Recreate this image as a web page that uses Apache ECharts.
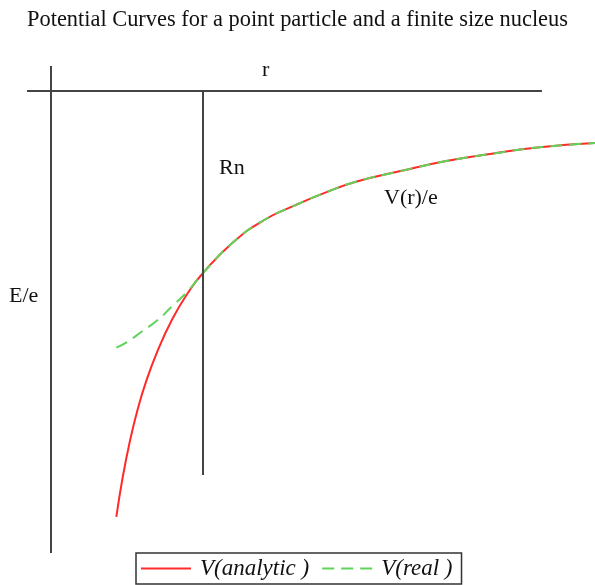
<!DOCTYPE html>
<html><head><meta charset="utf-8">
<script src="https://cdn.jsdelivr.net/npm/echarts@6/dist/echarts.min.js"></script>
<style>html,body{margin:0;padding:0;background:#fff}#c{width:595px;height:585px}</style>
</head><body><div id="c"></div>
<script>
// radius in units of Rn, potential in units of V(Rn)
var rAnalytic = [0.43, 0.47, 0.52, 0.57, 0.62, 0.7, 0.8, 0.9, 1.0, 1.2, 1.4, 1.6, 1.8, 2.0, 2.3, 2.6, 2.9, 3.2, 3.58];
var vAnalytic = [-2.34, -2.13, -1.92, -1.75, -1.61, -1.43, -1.25, -1.11, -1.0, -0.83, -0.71, -0.63, -0.56, -0.50, -0.44, -0.385, -0.345, -0.31, -0.286];
var rReal = [0.43, 0.5, 0.6, 0.7, 0.8, 0.9, 1.0, 1.2, 1.4, 1.6, 1.8, 2.0, 2.3, 2.6, 2.9, 3.2, 3.58];
var vReal = [-1.41, -1.38, -1.32, -1.26, -1.18, -1.10, -1.0, -0.83, -0.71, -0.63, -0.56, -0.50, -0.44, -0.385, -0.345, -0.31, -0.286];
var rNucleus = 1.0;
var seriesNames = ['V(analytic)', 'V(real)'];

function pairs(xs, ys){ return xs.map(function(x,i){ return [x, ys[i]]; }); }

var chart = echarts.init(document.getElementById('c'), null, {renderer:'canvas'});
var axisColor = '#444';
var labelFont = '22px "Liberation Serif"';
chart.setOption({
  animation: false,
  backgroundColor: '#fff',
  title: {
    text: 'Potential Curves for a point particle and a finite size nucleus',
    left: 'center', top: 4,
    textStyle: {fontFamily: 'Liberation Serif', fontSize: 22.4, fontWeight: 'normal', color: '#111'}
  },
  grid: {left: 0, right: 0, top: 0, bottom: 0},
  xAxis: {type: 'value', min: -0.3355, max: 3.579, show: false},
  yAxis: {type: 'value', min: -2.714, max: 0.5, show: false},
  legend: {
    data: seriesNames,
    left: 136, top: 553,
    padding: [4, 9, 4, 4],
    borderColor: '#333', borderWidth: 1.5,
    itemWidth: 50, itemHeight: 14, itemGap: 12,
    itemStyle: {opacity: 0},
    formatter: function(n){ return n.replace(')', ' )'); },
    textStyle: {fontFamily: 'Liberation Serif', fontStyle: 'italic', fontSize: 23, color: '#111', padding: [0, 0, 0, 4]}
  },
  series: [
    {
      name: seriesNames[0], type: 'line', smooth: true, symbol: 'none',
      data: pairs(rAnalytic, vAnalytic),
      lineStyle: {color: '#ff2a2a', width: 2},
      itemStyle: {color: '#ff2a2a'},
      z: 3,
      markLine: {
        silent: true, symbol: ['none','none'],
        label: {show: false},
        lineStyle: {color: axisColor, width: 2, type: 'solid'},
        data: [
          [{coord: [-0.158, 0]}, {coord: [3.23, 0]}],
          [{coord: [0, 0.137]}, {coord: [0, -2.538]}],
          [{coord: [rNucleus, 0]}, {coord: [rNucleus, -2.11]}]
        ]
      }
    },
    {
      name: seriesNames[1], type: 'line', smooth: true, symbol: 'none',
      data: pairs(rReal, vReal),
      lineStyle: {color: '#5fd35a', width: 2, type: [12, 7]},
      itemStyle: {color: '#5fd35a'},
      z: 4
    }
  ],
  graphic: [
    {type: 'text', left: 262, top: 59, style: {text: 'r', font: labelFont, fill: '#111'}},
    {type: 'text', left: 219, top: 157, style: {text: 'Rn', font: labelFont, fill: '#111'}},
    {type: 'text', left: 384, top: 187, style: {text: 'V(r)/e', font: labelFont, fill: '#111'}},
    {type: 'text', left: 9, top: 285, style: {text: 'E/e', font: labelFont, fill: '#111'}}
  ]
});
</script>
</body></html>
